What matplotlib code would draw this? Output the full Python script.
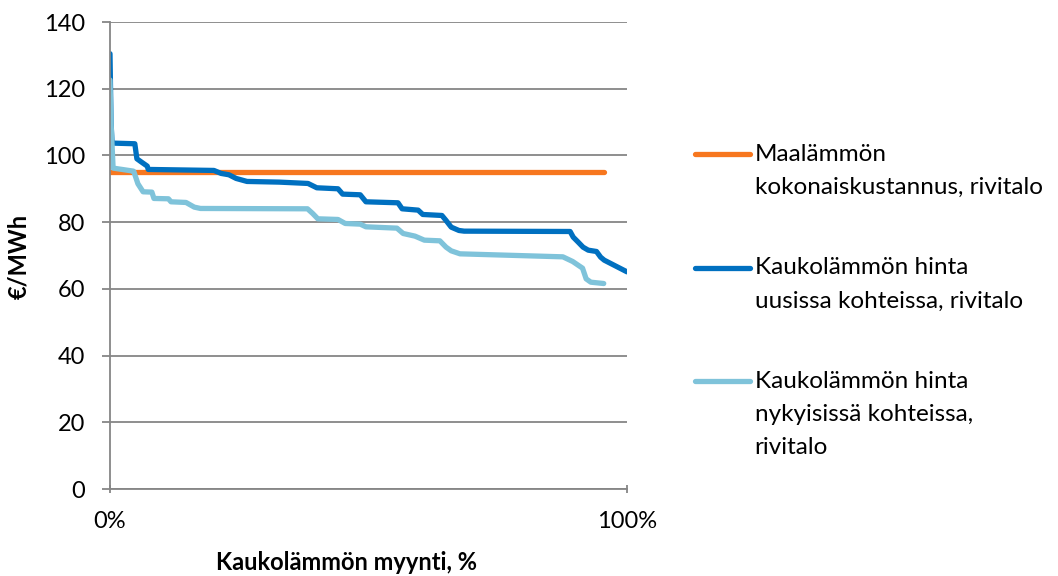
import matplotlib
matplotlib.use("Agg")
from matplotlib import pyplot as plt
from matplotlib.legend_handler import HandlerLine2D

# data (x = share of sales, %)
ground_x = [0, 95.5]
ground_y = [95, 95]

new_x = [0.0, 0.2, 0.4, 4.8, 5.2, 6.0, 7.2, 7.4, 20.1, 21.5, 23.0, 24.4, 26.5, 32.7, 38.3,
         40.0, 44.1, 45.0, 48.4, 49.5, 55.7, 56.5, 59.6, 60.5, 64.2, 65.0, 66.0, 67.5, 68.5,
         89.0, 89.6, 90.5, 91.5, 92.5, 94.1, 94.9, 95.6, 100.0]
new_y = [130.5, 110, 103.7, 103.5, 99.0, 98.1, 96.8, 95.8, 95.5, 94.6, 94.2, 93.1, 92.2, 92.0, 91.6,
         90.3, 90.0, 88.4, 88.2, 86.1, 85.8, 84.0, 83.6, 82.3, 82.0, 80.5, 78.5, 77.5, 77.3,
         77.2, 75.5, 74.1, 72.5, 71.6, 71.2, 69.5, 68.6, 65.1]

old_x = [0.0, 0.2, 0.6, 4.5, 4.6, 5.4, 6.4, 8.1, 8.5, 11.3, 11.8, 14.7, 16.3, 17.5, 38.2,
         39.2, 40.2, 44.1, 45.5, 48.4, 49.5, 55.5, 56.7, 59.0, 60.8, 63.8, 65.0, 66.0, 67.7,
         87.6, 89.5, 91.4, 92.1, 93.0, 95.5]
old_y = [122.6, 110, 96.2, 95.3, 95.2, 91.5, 89.1, 89.0, 87.1, 87.0, 86.1, 85.9, 84.5, 84.1, 84.0,
         82.6, 81.0, 80.8, 79.6, 79.4, 78.6, 78.2, 76.6, 75.8, 74.6, 74.4, 72.5, 71.4, 70.5,
         69.6, 68.2, 66.2, 63.0, 62.0, 61.6]

labels = ["Maalämmön\nkokonaiskustannus, rivitalo",
          "Kaukolämmön hinta\nuusissa kohteissa, rivitalo",
          "Kaukolämmön hinta\nnykyisissä kohteissa,\nrivitalo"]
colors = ["#F7771F", "#0070C0", "#7FC3DA"]

FS = 17
LEG_FS = 17.5
LINESP = 1.7
PITCH = 23.8  # points between legend text lines

plt.rcParams['font.family'] = ['Lato', 'DejaVu Sans']


class FirstLineHandler(HandlerLine2D):
    # put the legend line next to the first text line, like Excel does
    def __init__(self, nlines, **kw):
        super().__init__(**kw)
        self.shift = (nlines - 1) / 2 * PITCH

    def create_artists(self, legend, orig_handle, xdescent, ydescent, width, height, fontsize, trans):
        arts = super().create_artists(legend, orig_handle, xdescent, ydescent, width, height, fontsize, trans)
        for a in arts:
            a.set_ydata([y + self.shift for y in a.get_ydata()])
        return arts


fig = plt.figure(figsize=(10.58, 5.76), dpi=100)
ax = fig.add_axes([110/1058, 1 - 489/576, 517/1058, 467/576])

lw = 3.8
l1, = ax.plot(ground_x, ground_y, color=colors[0], lw=lw, solid_capstyle='round', label=labels[0])
l2, = ax.plot(new_x, new_y, color=colors[1], lw=lw, solid_capstyle='round', solid_joinstyle='round', label=labels[1])
l3, = ax.plot(old_x, old_y, color=colors[2], lw=lw, solid_capstyle='round', solid_joinstyle='round', label=labels[2])

ax.set_xlim(0, 100)
ax.set_ylim(0, 140)
ax.set_yticks(range(0, 141, 20))
ax.set_xticks([0, 100])
ax.set_xticklabels(["0%", "100%"])
ax.grid(True, axis='y', color='#868686', lw=1.3)
ax.set_axisbelow(True)
for s in ['top', 'right']:
    ax.spines[s].set_visible(False)
for s in ['left', 'bottom']:
    ax.spines[s].set_color('#868686')
    ax.spines[s].set_linewidth(1.3)
ax.tick_params(axis='y', length=6, width=1.3, color='#868686', pad=12, labelsize=FS)
ax.tick_params(axis='x', length=6, width=1.3, color='#868686', direction='inout', pad=13, labelsize=FS)

ax.set_ylabel("€/MWh", fontsize=FS, fontweight='bold')
ax.yaxis.set_label_coords(-80/517, (489 - 256)/467)
ax.set_xlabel("Kaukolämmön myynti, %", fontsize=FS, fontweight='bold')
ax.xaxis.set_label_coords((347 - 110)/517, -(551 - 489)/467)

hm = {l1: FirstLineHandler(2), l2: FirstLineHandler(2), l3: FirstLineHandler(3)}
leg = ax.legend(loc='upper left', bbox_to_anchor=(695/1058, 1 - 144/576), bbox_transform=fig.transFigure,
                frameon=False, fontsize=LEG_FS, handlelength=2.25, handletextpad=0.2, labelspacing=2.45,
                borderaxespad=0, borderpad=0, handler_map=hm)
for t in leg.get_texts():
    t.set_linespacing(LINESP)

fig.savefig('out.png', dpi=100)
